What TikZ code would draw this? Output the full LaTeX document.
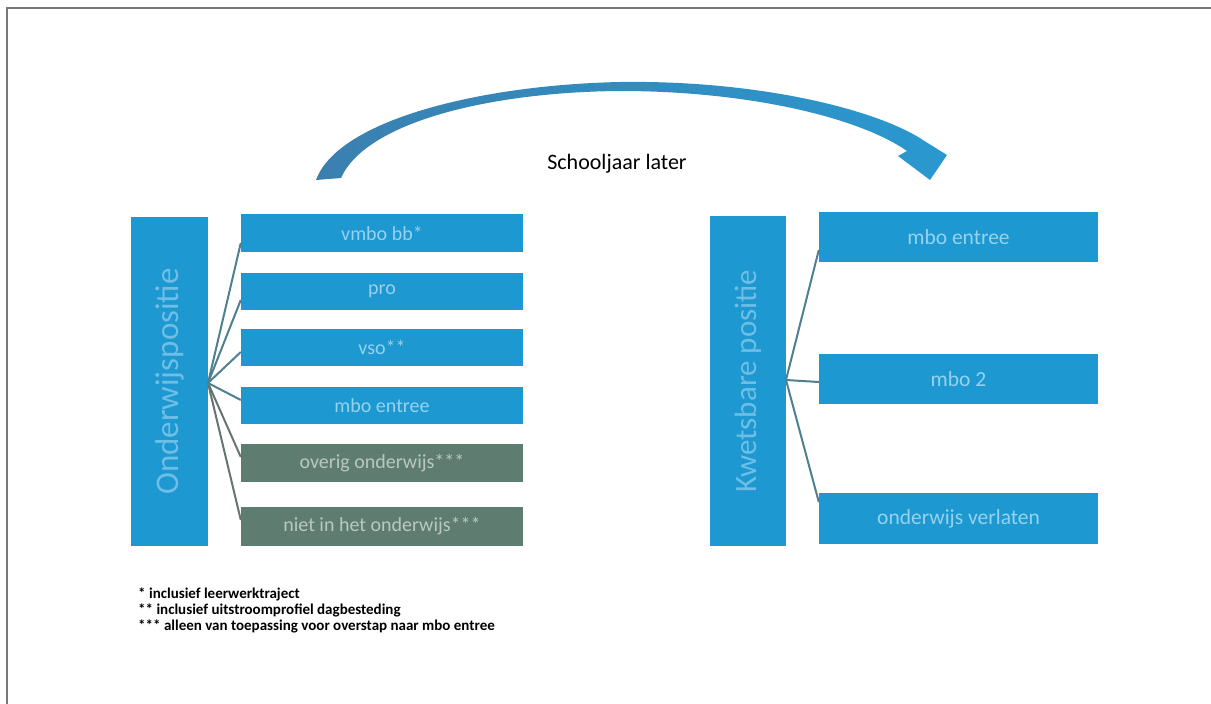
\documentclass[tikz,border=0pt]{standalone}
\usepackage{fontspec}
\setmainfont{Carlito}
\definecolor{boxblue}{RGB}{29,152,208}
\definecolor{boxgray}{RGB}{94,125,112}
\definecolor{lineblue}{RGB}{78,128,145}
\definecolor{linegray}{RGB}{100,118,110}
\definecolor{txtblue}{RGB}{150,210,238}
\definecolor{txtgray}{RGB}{185,200,192}
\definecolor{vtxt}{RGB}{110,190,230}
\definecolor{arrowL}{RGB}{58,128,175}
\definecolor{arrowR}{RGB}{42,152,208}
\definecolor{framegray}{RGB}{120,120,120}
\begin{document}
\begin{tikzpicture}[x=1pt,y=-1pt,
  bar/.style={fill=boxblue, rotate=90, minimum width=329pt, minimum height=77pt, inner sep=0pt, text=vtxt},
  bbox/.style={fill=boxblue, minimum width=282pt, inner sep=0pt, text=txtblue, font=\fontsize{20}{20}\selectfont},
  gbox/.style={bbox, fill=boxgray, text=txtgray},
  conn/.style={draw=lineblue, line width=2pt},
  conng/.style={draw=linegray, line width=2pt},
  note/.style={anchor=west, inner sep=0pt, font=\bfseries\fontsize{15}{15}\selectfont}
]
\useasboundingbox (0,0) rectangle (1211,704);
\fill[white] (0,0) rectangle (1211,704);
\draw[framegray, line width=2pt] (7,704) -- (7,8) -- (1211,8);

% curved arrow
\shade[left color=arrowL, right color=arrowR]
  (316,180) .. controls (338,120) and (480,85) .. (620,82)
  .. controls (760,80) and (880,110) .. (926,142)
  -- (947,155) -- (930,180) -- (898,156) -- (907,151)
  .. controls (860,118) and (750,91) .. (620,91)
  .. controls (490,92) and (366,122) .. (341,178) -- cycle;
\node[font=\fontsize{22}{22}\selectfont, inner sep=0pt] (title) at (617,164) {Schooljaar later};

% left side
\node[bar, font=\fontsize{33}{33}\selectfont] (lbar) at (169.5,381.5) {Onderwijspositie};
\coordinate (hubL) at (208,383);
\node[bbox, minimum height=38pt] (b1) at (382,233) {vmbo bb*};
\node[bbox, minimum height=37pt] (b2) at (382,291.5) {pro};
\node[bbox, minimum height=37pt] (b3) at (382,347.5) {vso**};
\node[bbox, minimum height=37pt] (b4) at (382,405.5) {mbo entree};
\node[gbox, minimum height=38pt] (b5) at (382,463) {overig onderwijs***};
\node[gbox, minimum height=39pt] (b6) at (382,526.5) {niet in het onderwijs***};
\draw[conn] (hubL) -- ([yshift=-10pt]b1.west);
\draw[conn] (hubL) -- ([yshift=-8.5pt]b2.west);
\draw[conn] (hubL) -- ([yshift=-4.5pt]b3.west);
\draw[conn] (hubL) -- ([yshift=5.5pt]b4.west);
\draw[conng] (hubL) -- ([yshift=6pt]b5.west);
\draw[conng] (hubL) -- ([yshift=6.5pt]b6.west);

% right side
\node[bar, minimum width=330pt, minimum height=76pt, font=\fontsize{31}{31}\selectfont] (rbar) at (748,381) {Kwetsbare positie};
\coordinate (hubR) at (786,380);
\node[bbox, minimum width=279pt, minimum height=50pt, font=\fontsize{21.5}{21.5}\selectfont] (r1) at (958.5,237) {mbo entree};
\node[bbox, minimum width=279pt, minimum height=50pt, font=\fontsize{21.5}{21.5}\selectfont] (r2) at (958.5,379) {mbo 2};
\node[bbox, minimum width=279pt, minimum height=51pt, font=\fontsize{21.5}{21.5}\selectfont] (r3) at (958.5,518.5) {onderwijs verlaten};
\draw[conn] (hubR) -- ([yshift=-13pt]r1.west);
\draw[conn] (hubR) -- ([yshift=-3pt]r2.west);
\draw[conn] (hubR) -- ([yshift=16.5pt]r3.west);

% footnotes
\node[note] (n1) at (138,594) {* inclusief leerwerktraject};
\node[note] (n2) at (138,610) {** inclusief uitstroomprofiel dagbesteding};
\node[note] (n3) at (138,626) {*** alleen van toepassing voor overstap naar mbo entree};
\end{tikzpicture}
\end{document}
